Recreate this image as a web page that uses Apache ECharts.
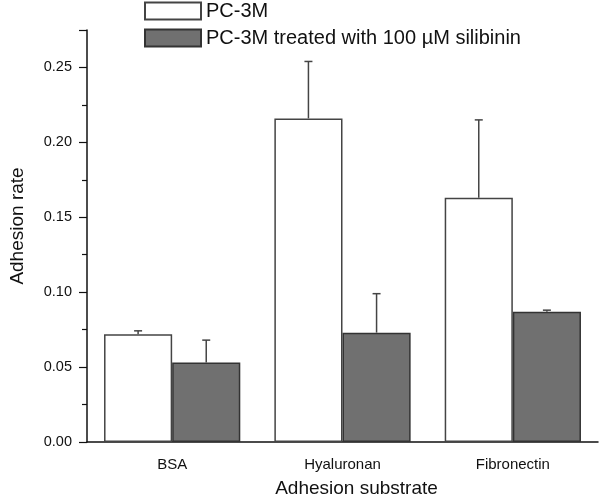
<!DOCTYPE html>
<html>
<head>
<meta charset="utf-8">
<script src="https://cdn.jsdelivr.net/npm/echarts@6/dist/echarts.min.js"></script>
<style>
  html, body { margin: 0; padding: 0; background: #fff; }
  #chart { width: 600px; height: 503px; }
</style>
</head>
<body>
<div id="chart"></div>
<script>
const categories = ['BSA', 'Hyaluronan', 'Fibronectin']
const seriesNames = ['PC-3M', 'PC-3M treated with 100 µM silibinin']
const controlMean = [0.072, 0.216, 0.163]
const controlSd = [0.0022, 0.038, 0.052]
const treatedMean = [0.053, 0.073, 0.087]
const treatedSd = [0.015, 0.026, 0.001]

const font = 'Liberation Sans, Arial, sans-serif'
const chart = echarts.init(document.getElementById('chart'))

// error bars, drawn upward from the bar top; offset = which half of the category
function errorBar(means, sds, offset) {
  return {
    type: 'custom',
    xAxisIndex: 0,
    z: 5,
    data: means.map((m, i) => [i, m, m + sds[i]]),
    renderItem: function (params, api) {
      const band = api.size([1, 0])[0]
      const base = api.coord([api.value(0), api.value(1)])
      const top = api.coord([api.value(0), api.value(2)])
      const x = base[0] + offset * band
      return {
        type: 'group',
        children: [
          { type: 'line', shape: { x1: x, y1: base[1], x2: x, y2: top[1] }, style: { stroke: '#444', lineWidth: 1.5 } },
          { type: 'line', shape: { x1: x - 4, y1: top[1], x2: x + 4, y2: top[1] }, style: { stroke: '#444', lineWidth: 1.5 } }
        ]
      }
    }
  }
}

const option = {
  animation: false,
  textStyle: { fontFamily: font },
  legend: {
    orient: 'vertical',
    left: 144,
    top: 0,
    padding: 0,
    itemWidth: 56,
    itemHeight: 17,
    itemGap: 5,
    icon: 'rect',
    textStyle: { fontSize: 20, lineHeight: 22, color: '#111', fontFamily: font },
    data: seriesNames
  },
  grid: { left: 87, right: 2, top: 30, bottom: 59 },
  xAxis: [
    {
      type: 'category',
      data: categories,
      name: 'Adhesion substrate',
      nameLocation: 'middle',
      nameGap: 37,
      nameTextStyle: { fontSize: 19, color: '#111', padding: [0, 0, 0, 28] },
      axisLine: { lineStyle: { color: '#111', width: 1.5 } },
      axisTick: { alignWithLabel: true, length: 10, lineStyle: { color: '#111', width: 1.2 } },
      axisLabel: { fontSize: 15, color: '#111', margin: 15 }
    },
    {
      type: 'category',
      data: categories,
      position: 'bottom',
      axisLine: { show: false },
      axisTick: { length: 5, lineStyle: { color: '#111', width: 1.2 } },
      axisLabel: { show: false }
    }
  ],
  yAxis: {
    type: 'value',
    min: 0,
    max: 0.275,
    interval: 0.05,
    name: 'Adhesion rate',
    nameLocation: 'middle',
    nameGap: 60,
    nameTextStyle: { fontSize: 19, color: '#111', padding: [0, 0, 0, 20] },
    axisLine: { show: true, lineStyle: { color: '#111', width: 1.5 } },
    axisTick: { show: true, length: 8, lineStyle: { color: '#111', width: 1.2 } },
    minorTick: { show: true, splitNumber: 2, length: 5, lineStyle: { color: '#111', width: 1.2 } },
    splitLine: { show: false },
    axisLabel: {
      fontSize: 14.5,
      color: '#111',
      margin: 15,
      formatter: function (v) { return v > 0.27 ? '' : v.toFixed(2) }
    }
  },
  series: [
    {
      name: seriesNames[0],
      type: 'bar',
      data: controlMean,
      barGap: 0,
      barCategoryGap: '20%',
      itemStyle: { color: '#fff', borderColor: '#444', borderWidth: 1.5 }
    },
    {
      name: seriesNames[1],
      type: 'bar',
      data: treatedMean,
      itemStyle: { color: '#707070', borderColor: '#333', borderWidth: 1.5 }
    },
    errorBar(controlMean, controlSd, -0.2),
    errorBar(treatedMean, treatedSd, 0.2)
  ]
}
chart.setOption(option)
</script>
</body>
</html>
